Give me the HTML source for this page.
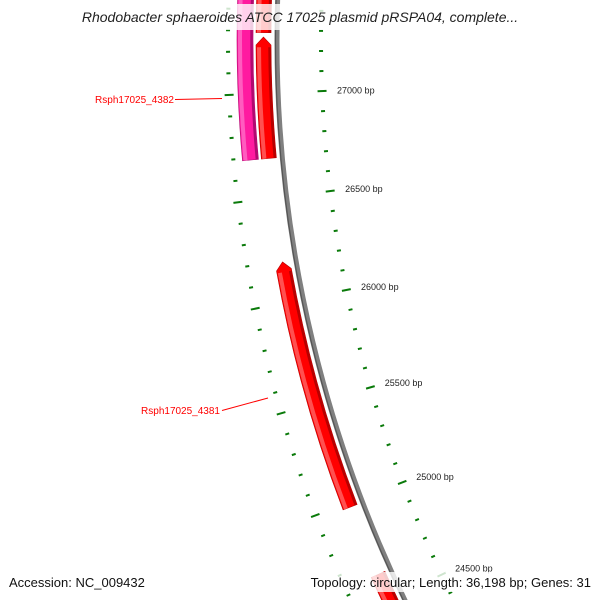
<!DOCTYPE html>
<html><head><meta charset="utf-8"><style>
html,body{margin:0;padding:0;background:#fff;width:600px;height:600px;overflow:hidden}
svg{display:block;font-family:"Liberation Sans","DejaVu Sans",sans-serif}
</style></head><body>
<svg id="chart" width="600" height="600" viewBox="0 0 600 600">
<g id="ticks"></g>
<g id="backbone"></g>
<g id="genes"></g>
<g id="labels"></g>
<g>
<rect x="58" y="4" width="484" height="26" fill="#fff" fill-opacity="0.8"/>
<text x="300" y="22" text-anchor="middle" font-size="14" font-style="italic" fill="#222">Rhodobacter sphaeroides ATCC 17025 plasmid pRSPA04, complete...</text>
</g>
<g>
<rect x="4" y="572" width="150" height="20" fill="#fff" fill-opacity="0.8"/>
<text x="9" y="587" font-size="13" fill="#111">Accession: NC_009432</text>
<rect x="298" y="572" width="298" height="20" fill="#fff" fill-opacity="0.8"/>
<text x="591" y="587" text-anchor="end" font-size="13" fill="#111">Topology: circular; Length: 36,198 bp; Genes: 31</text>
</g>
</svg>
<script>
const geneNames = ["", "", "Rsph17025_4382", "Rsph17025_4381", ""];
const geneStart = [27290, 26690, 26690, 24978, 24000];
const geneEnd   = [27700, 27269, 27700, 26192, 24631];
const geneRing  = ["inner", "inner", "outer", "inner", "inner"];
const geneArrow = [false, true, false, true, false];
const tickStart = 24000, tickEnd = 27800, tickStep = 100, majorStep = 500;

const NS = "http://www.w3.org/2000/svg";
const CX = 1567, CY = 40;
function ang(bp){ return 2.35 + (27000 - bp) * 0.009225; }
function pt(r, a){ const t = a * Math.PI / 180; return [CX - r * Math.cos(t), CY + r * Math.sin(t)]; }
function mk(tag, attrs, parent){ const e = document.createElementNS(NS, tag); for (const k in attrs) e.setAttribute(k, attrs[k]); parent.appendChild(e); return e; }
function arcPath(r, a1, a2){ const p1 = pt(r, a1), p2 = pt(r, a2); return `M${p1[0]},${p1[1]} A${r},${r} 0 0 ${a2 > a1 ? 0 : 1} ${p2[0]},${p2[1]}`; }

// ticks
const tg = document.getElementById('ticks');
for (let bp = tickStart; bp <= tickEnd; bp += tickStep) {
  const a = ang(bp), major = bp % majorStep === 0;
  const len = major ? 4.5 : 2;
  [1339, 1246].forEach(r => {
    const p1 = pt(r - len, a), p2 = pt(r + len, a);
    const l = mk('line', {x1: p1[0], y1: p1[1], x2: p2[0], y2: p2[1], stroke: '#0a7a0a', 'stroke-width': 2}, tg);
    
    
  });
  if (major) {
    const p = pt(1231, a);
    const t = mk('text', {x: p[0], y: p[1] + 3, 'font-size': 9, fill: '#222'}, tg);
    t.textContent = bp + ' bp';
    
    
  }
}

// backbone
const bb = document.getElementById('backbone');
const b1 = mk('path', {d: arcPath(1290, -3, 30), stroke: '#808080', 'stroke-width': 5, fill: 'none'}, bb);


const b2 = mk('path', {d: arcPath(1291.5, -3, 30), stroke: '#555', 'stroke-width': 1.2, fill: 'none'}, bb);



// genes
const gg = document.getElementById('genes');
const rings = {inner: [1296, 1311], outer: [1314, 1330]};
const colors = {inner: ['#ff0000', '#ff5050', '#b80000'], outer: ['#ff1aa0', '#ff5cbf', '#b00a70']};
for (let i = 0; i < geneStart.length; i++) {
  const [ri, ro] = rings[geneRing[i]];
  const aEnd = ang(geneStart[i]), aTip = ang(geneEnd[i]);
  const rm = (ri + ro) / 2;
  let d;
  if (geneArrow[i]) {
    const aSh = aTip + 0.35;
    const tip = pt(rm, aTip), o1 = pt(ro, aSh), o2 = pt(ro, aEnd), i2 = pt(ri, aEnd), i1 = pt(ri, aSh);
    d = `M${tip[0]},${tip[1]} L${o1[0]},${o1[1]} A${ro},${ro} 0 0 0 ${o2[0]},${o2[1]} L${i2[0]},${i2[1]} A${ri},${ri} 0 0 1 ${i1[0]},${i1[1]} Z`;
  } else {
    const o1 = pt(ro, aTip), o2 = pt(ro, aEnd), i2 = pt(ri, aEnd), i1 = pt(ri, aTip);
    d = `M${o1[0]},${o1[1]} A${ro},${ro} 0 0 0 ${o2[0]},${o2[1]} L${i2[0]},${i2[1]} A${ri},${ri} 0 0 1 ${i1[0]},${i1[1]} Z`;
  }
  const c = colors[geneRing[i]];
  const g = mk('path', {d: d, fill: c[0], stroke: c[2], 'stroke-width': 0.6}, gg);
  
  
  const aS = geneArrow[i] ? aTip + 0.45 : aTip;
  const hl = mk('path', {d: arcPath(ro - 3, aS, aEnd), stroke: c[1], 'stroke-width': 4, fill: 'none'}, gg);
  
  
  const sh = mk('path', {d: arcPath(ri + 1.5, aS, aEnd), stroke: c[2], 'stroke-width': 2.5, fill: 'none'}, gg);
  
  
}

// labels
const lg = document.getElementById('labels');
function addLabel(name, tx, ty, lx1, ly1, lx2, ly2){
  const l = mk('line', {x1: lx1, y1: ly1, x2: lx2, y2: ly2, stroke: '#ff0000', 'stroke-width': 1}, lg);
  
  
  const t = mk('text', {x: tx, y: ty, 'text-anchor': 'end', 'font-size': 10, fill: '#ff0000'}, lg);
  t.textContent = name;
  
  
}
addLabel(geneNames[2], 174, 103, 175, 99.5, 222, 98.5);
addLabel(geneNames[3], 220, 414, 222, 410.5, 268, 398);
</script>
</body></html>
